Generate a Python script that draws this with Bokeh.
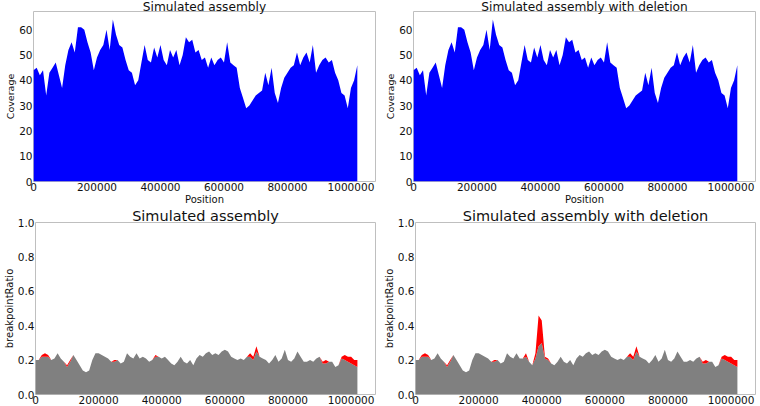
import numpy as np
from bokeh.plotting import figure
from bokeh.models import Range1d, FixedTicker, NumeralTickFormatter
from bokeh.layouts import column, row
from bokeh.embed import file_html
from bokeh.resources import INLINE

# ---------------- data ----------------
bin_width = 10000
positions = list(range(0, 1030000, bin_width))  # 103 sample positions
x_end = 1077300

coverage = [44, 45, 42, 44, 34, 43, 45, 47, 42, 37,
            46, 52, 55, 51, 61, 61, 60, 55, 51, 44,
            49, 52, 54, 60, 52, 64, 58, 54, 53, 48,
            44, 43, 38, 40, 47, 54, 48, 47, 53, 49,
            54, 48, 46, 52, 49, 52, 46, 50, 57, 55,
            56, 51, 52, 48, 49, 45, 49, 46, 48, 49,
            47, 55, 47, 46, 45, 37, 33, 29, 30, 32,
            34, 35, 36, 43, 38, 45, 35, 31, 37, 41,
            43, 45, 46, 51, 46, 49, 51, 47, 54, 43,
            46, 48, 49, 47, 48, 43, 40, 35, 34, 29,
            37, 40, 46]

ratio_gray = [0.20, 0.20, 0.22, 0.22, 0.22, 0.20, 0.21, 0.24, 0.21, 0.19,
              0.16, 0.19, 0.23, 0.20, 0.17, 0.14, 0.13, 0.14, 0.20, 0.24,
              0.24, 0.23, 0.22, 0.21, 0.19, 0.19, 0.20, 0.18, 0.19, 0.24,
              0.22, 0.21, 0.24, 0.21, 0.22, 0.21, 0.19, 0.20, 0.22, 0.22,
              0.21, 0.22, 0.20, 0.18, 0.17, 0.19, 0.22, 0.19, 0.18, 0.20,
              0.17, 0.21, 0.23, 0.22, 0.24, 0.25, 0.23, 0.24, 0.23, 0.25,
              0.26, 0.25, 0.22, 0.21, 0.20, 0.21, 0.20, 0.22, 0.22, 0.20,
              0.25, 0.22, 0.21, 0.20, 0.18, 0.20, 0.23, 0.19, 0.21, 0.26,
              0.20, 0.19, 0.21, 0.25, 0.22, 0.19, 0.19, 0.20, 0.19, 0.21,
              0.22, 0.18, 0.18, 0.19, 0.19, 0.16, 0.17, 0.21, 0.20, 0.19,
              0.18, 0.17, 0.16]

ratio_red = [0.20, 0.20, 0.23, 0.24, 0.23, 0.20, 0.21, 0.24, 0.21, 0.19,
             0.17, 0.20, 0.23, 0.20, 0.17, 0.14, 0.13, 0.14, 0.20, 0.24,
             0.24, 0.23, 0.22, 0.21, 0.19, 0.20, 0.20, 0.18, 0.19, 0.24,
             0.22, 0.21, 0.24, 0.21, 0.22, 0.21, 0.19, 0.20, 0.23, 0.22,
             0.21, 0.22, 0.20, 0.18, 0.17, 0.19, 0.22, 0.19, 0.18, 0.20,
             0.17, 0.21, 0.23, 0.22, 0.24, 0.25, 0.23, 0.24, 0.23, 0.25,
             0.26, 0.25, 0.22, 0.21, 0.20, 0.21, 0.20, 0.22, 0.24, 0.22,
             0.28, 0.22, 0.21, 0.20, 0.18, 0.20, 0.23, 0.19, 0.21, 0.26,
             0.20, 0.19, 0.21, 0.25, 0.22, 0.19, 0.19, 0.20, 0.19, 0.21,
             0.22, 0.19, 0.20, 0.19, 0.19, 0.16, 0.17, 0.22, 0.23, 0.22,
             0.22, 0.20, 0.20]

ratio_gray_del = [0.20, 0.20, 0.22, 0.22, 0.22, 0.20, 0.21, 0.24, 0.21, 0.19,
                  0.16, 0.19, 0.23, 0.20, 0.17, 0.14, 0.13, 0.14, 0.20, 0.24,
                  0.24, 0.23, 0.22, 0.21, 0.19, 0.19, 0.20, 0.18, 0.19, 0.24,
                  0.22, 0.21, 0.24, 0.21, 0.21, 0.22, 0.19, 0.17, 0.21, 0.28,
                  0.30, 0.21, 0.20, 0.18, 0.17, 0.19, 0.22, 0.19, 0.18, 0.20,
                  0.17, 0.21, 0.23, 0.22, 0.24, 0.25, 0.23, 0.24, 0.23, 0.25,
                  0.26, 0.25, 0.22, 0.21, 0.20, 0.21, 0.20, 0.22, 0.22, 0.20,
                  0.25, 0.22, 0.21, 0.20, 0.18, 0.20, 0.23, 0.19, 0.21, 0.26,
                  0.20, 0.19, 0.21, 0.25, 0.22, 0.19, 0.19, 0.20, 0.19, 0.21,
                  0.22, 0.18, 0.18, 0.19, 0.19, 0.16, 0.17, 0.21, 0.20, 0.19,
                  0.18, 0.17, 0.16]

ratio_red_del = [0.20, 0.20, 0.23, 0.24, 0.23, 0.20, 0.21, 0.24, 0.21, 0.19,
                 0.17, 0.20, 0.23, 0.20, 0.17, 0.14, 0.13, 0.14, 0.20, 0.24,
                 0.24, 0.23, 0.22, 0.21, 0.19, 0.20, 0.20, 0.18, 0.19, 0.24,
                 0.22, 0.21, 0.24, 0.21, 0.21, 0.24, 0.19, 0.17, 0.24, 0.46,
                 0.43, 0.22, 0.21, 0.18, 0.17, 0.19, 0.22, 0.19, 0.18, 0.20,
                 0.17, 0.21, 0.23, 0.22, 0.24, 0.25, 0.23, 0.24, 0.23, 0.25,
                 0.26, 0.25, 0.22, 0.21, 0.20, 0.21, 0.20, 0.22, 0.24, 0.22,
                 0.28, 0.22, 0.21, 0.20, 0.18, 0.20, 0.23, 0.19, 0.21, 0.26,
                 0.20, 0.19, 0.21, 0.25, 0.22, 0.19, 0.19, 0.20, 0.19, 0.21,
                 0.22, 0.19, 0.20, 0.19, 0.19, 0.16, 0.17, 0.22, 0.23, 0.22,
                 0.22, 0.20, 0.20]

x_ticks = [0, 200000, 400000, 600000, 800000, 1000000]
cov_ticks = [0, 10, 20, 30, 40, 50, 60]
ratio_ticks = [0.0, 0.2, 0.4, 0.6, 0.8, 1.0]

titles_top = ["Simulated assembly", "Simulated assembly with deletion"]
titles_bottom = ["Simulated assembly", "Simulated assembly with deletion"]

FONT = "DejaVu Sans"


def make_fig(height, y_end, yticks, yfmt, ylabel, xlabel, title, title_size,
             title_standoff, ylabel_size):
    p = figure(width=380, height=height, output_backend="svg", toolbar_location=None,
               x_range=Range1d(0, x_end), y_range=Range1d(0, y_end),
               min_border_left=33, min_border_right=5,
               min_border_top=0, min_border_bottom=0, title=title)
    p.title.align = "center"
    p.title.text_font = FONT
    p.title.text_font_size = title_size
    p.title.text_font_style = "normal"
    p.title.text_color = "#111111"
    p.title.standoff = title_standoff
    p.title.offset = 0
    p.grid.visible = False
    p.outline_line_color = "#bfbfbf"
    p.outline_line_width = 1
    p.background_fill_color = "white"
    p.border_fill_color = "white"
    for ax in (p.xaxis[0], p.yaxis[0]):
        ax.axis_line_color = None
        ax.major_tick_out = 0
        ax.major_tick_in = 0
        ax.minor_tick_out = 0
        ax.minor_tick_in = 0
        ax.major_label_text_font = FONT
        ax.major_label_text_font_size = "10.5px"
        ax.major_label_text_color = "#111111"
        ax.major_label_standoff = 1
        ax.axis_label_text_font = FONT
        ax.axis_label_text_font_style = "normal"
        ax.axis_label_text_color = "#111111"
        ax.axis_label_standoff = 0
    p.xaxis.ticker = FixedTicker(ticks=x_ticks)
    p.xaxis.formatter = NumeralTickFormatter(format="0")
    p.yaxis.ticker = FixedTicker(ticks=yticks)
    p.yaxis.formatter = NumeralTickFormatter(format=yfmt)
    p.yaxis.axis_label = ylabel
    p.yaxis.axis_label_text_font_size = ylabel_size
    if xlabel:
        p.xaxis.axis_label = xlabel
        p.xaxis.axis_label_text_font_size = "10px"
    return p


figs_top = []
for t in titles_top:
    p = make_fig(207, 67.2, cov_ticks, "0", "Coverage", "Position", t, "12.2px", -5, "9.5px")
    p.varea(x=positions, y1=0, y2=coverage, fill_color="#0000ff")
    figs_top.append(p)

figs_bot = []
for t, g, r in zip(titles_bottom, [ratio_gray, ratio_gray_del], [ratio_red, ratio_red_del]):
    p = make_fig(199, 1.0, ratio_ticks, "0.0", "breakpointRatio", None, t, "14.5px", -3, "10px")
    p.varea(x=positions, y1=0, y2=g, fill_color="#808080")
    p.varea(x=positions, y1=g, y2=r, fill_color="#ff0000")
    figs_bot.append(p)

layout = column(row(*figs_top), row(*figs_bot))

open("out.html", "w").write(file_html(layout, INLINE))
